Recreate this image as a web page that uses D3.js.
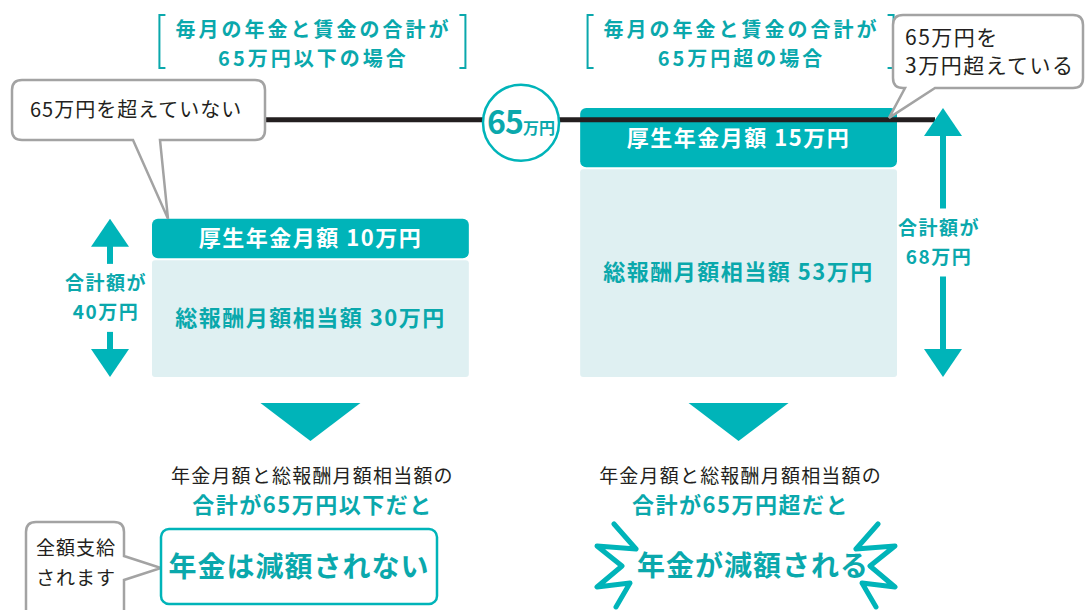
<!DOCTYPE html>
<html lang="ja">
<head>
<meta charset="utf-8">
<script src="https://cdn.jsdelivr.net/npm/d3@7"></script>
<style>
  body { margin: 0; background: #fff; }
  svg text { font-family: "Noto Sans CJK JP", "Noto Sans", sans-serif; }
</style>
<title>在職老齢年金</title>
</head>
<body>
<svg id="chart" width="1086" height="610"></svg>
<script>
// data
var panels = ["65万円以下の場合", "65万円超の場合"];
var pensionMonthly = [10, 15];        // 厚生年金月額 (万円)
var salaryEquivalent = [30, 53];      // 総報酬月額相当額 (万円)
var threshold = 65;                   // 基準額 (万円)
var headingLine1 = ["毎月の年金と賃金の合計が", "毎月の年金と賃金の合計が"];
var conclusionTeal = ["合計が65万円以下だと", "合計が65万円超だと"];
var resultText = ["年金は減額されない", "年金が減額される"];

var teal = "#00b4b9", tealText = "#0aa8ac", light = "#dff0f2", ink = "#231f20", gray = "#a3a3a3";

var svg = d3.select("#chart");

var x = d3.scaleBand().domain(panels).range([152, 897]).paddingInner(0.26).paddingOuter(0);
var y = d3.scaleLinear().domain([0, 68]).range([377, 108]);
var bw = x.bandwidth();

var totals = panels.map(function(p, i){ return pensionMonthly[i] + salaryEquivalent[i]; });

// headings with brackets
panels.forEach(function(p, i){
  var cx = x(p) + bw / 2 + 3;
  var g = svg.append("g");
  var t = g.append("text").attr("text-anchor", "middle")
    .attr("font-size", 20).attr("letter-spacing", 3).attr("font-weight", 700).attr("fill", tealText);
  t.append("tspan").attr("x", cx).attr("y", 37).text(headingLine1[i]);
  t.append("tspan").attr("x", cx).attr("y", 66).text(threshold + "万円" + (i == 0 ? "以下" : "超") + "の場合");
  var l = cx - 154, r = cx + 152;
  g.append("path").attr("d", "M" + (l + 6) + ",15 H" + l + " V68 H" + (l + 6))
    .attr("fill", "none").attr("stroke", tealText).attr("stroke-width", 2);
  g.append("path").attr("d", "M" + (r - 6) + ",15 H" + r + " V68 H" + (r - 6))
    .attr("fill", "none").attr("stroke", tealText).attr("stroke-width", 2);
});

// stacked bars
var bars = svg.selectAll("g.bar").data(panels).enter().append("g").attr("class", "bar");

bars.append("rect")
  .attr("x", function(d){ return x(d); })
  .attr("y", function(d, i){ return y(salaryEquivalent[i]) + 2; })
  .attr("width", bw)
  .attr("height", function(d, i){ return y(0) - y(salaryEquivalent[i]) - 2; })
  .attr("rx", 3).attr("fill", light);

bars.append("rect")
  .attr("x", function(d){ return x(d); })
  .attr("y", function(d, i){ return y(totals[i]); })
  .attr("width", bw)
  .attr("height", function(d, i){ return y(salaryEquivalent[i]) - y(totals[i]); })
  .attr("rx", 6).attr("fill", teal);

bars.append("text")
  .attr("x", function(d){ return x(d) + bw / 2; })
  .attr("y", function(d, i){ return (y(salaryEquivalent[i]) + y(totals[i])) / 2; })
  .attr("dy", "0.36em").attr("text-anchor", "middle")
  .attr("font-size", 22).attr("letter-spacing", 1.5).attr("font-weight", 700).attr("fill", "#fff")
  .text(function(d, i){ return "厚生年金月額 " + pensionMonthly[i] + "万円"; });

bars.append("text")
  .attr("x", function(d){ return x(d) + bw / 2; })
  .attr("y", function(d, i){ return (y(0) + y(salaryEquivalent[i])) / 2; })
  .attr("dy", "0.36em").attr("text-anchor", "middle")
  .attr("font-size", 22).attr("letter-spacing", 1.5).attr("font-weight", 700).attr("fill", tealText)
  .text(function(d, i){ return "総報酬月額相当額 " + salaryEquivalent[i] + "万円"; });

// threshold line
var ty = y(threshold);
svg.append("line").attr("x1", 255).attr("x2", 935).attr("y1", ty).attr("y2", ty)
  .attr("stroke", ink).attr("stroke-width", 5);

// double arrows with total labels
var arrowX = [110, 943];
panels.forEach(function(p, i){
  var top = y(totals[i]), bot = y(0), mid = (top + bot) / 2, ax = arrowX[i];
  var g = svg.append("g");
  g.append("path").attr("d", "M" + ax + "," + top + " l-19,28 h38 z").attr("fill", teal);
  g.append("path").attr("d", "M" + ax + "," + bot + " l-19,-28 h38 z").attr("fill", teal);
  g.append("rect").attr("x", ax - 3).attr("y", top + 26).attr("width", 6).attr("height", mid - 34 - top - 26).attr("fill", teal);
  g.append("rect").attr("x", ax - 3).attr("y", mid + 34).attr("width", 6).attr("height", bot - 26 - mid - 34).attr("fill", teal);
  var t = g.append("text").attr("text-anchor", "middle")
    .attr("font-size", 19).attr("letter-spacing", 1.5).attr("font-weight", 700).attr("fill", tealText);
  t.append("tspan").attr("x", ax - 4).attr("y", mid - 8).text("合計額が");
  t.append("tspan").attr("x", ax - 4).attr("y", mid + 21).text(totals[i] + "万円");
});

// 65万円 badge
var badge = svg.append("g").attr("transform", "translate(521," + (ty + 3) + ")");
badge.append("circle").attr("r", 38).attr("fill", "#fff").attr("stroke", teal).attr("stroke-width", 2.5);
var bt = badge.append("text").attr("text-anchor", "middle").attr("y", 11).attr("fill", tealText).attr("font-weight", 700);
bt.append("tspan").attr("font-size", 32).attr("letter-spacing", -1).text(threshold);
bt.append("tspan").attr("font-size", 16).text("万円");

// callout bubbles
function bubble(x0, y0, w, h, tail, lines, fs, lh) {
  var g = svg.append("g");
  var r = 10;
  var d;
  if (tail.side == "bottom") {
    d = "M" + (x0 + r) + "," + y0 + " H" + (x0 + w - r) + " Q" + (x0 + w) + "," + y0 + " " + (x0 + w) + "," + (y0 + r)
      + " V" + (y0 + h - r) + " Q" + (x0 + w) + "," + (y0 + h) + " " + (x0 + w - r) + "," + (y0 + h)
      + " H" + tail.b2 + " L" + tail.tx + "," + tail.ty + " L" + tail.b1 + "," + (y0 + h)
      + " H" + (x0 + r) + " Q" + x0 + "," + (y0 + h) + " " + x0 + "," + (y0 + h - r)
      + " V" + (y0 + r) + " Q" + x0 + "," + y0 + " " + (x0 + r) + "," + y0 + " Z";
  } else {
    d = "M" + (x0 + r) + "," + y0 + " H" + (x0 + w - r) + " Q" + (x0 + w) + "," + y0 + " " + (x0 + w) + "," + (y0 + r)
      + " V" + tail.b1 + " L" + tail.tx + "," + tail.ty + " L" + (x0 + w) + "," + tail.b2
      + " V" + (y0 + h - r) + " Q" + (x0 + w) + "," + (y0 + h) + " " + (x0 + w - r) + "," + (y0 + h)
      + " H" + (x0 + r) + " Q" + x0 + "," + (y0 + h) + " " + x0 + "," + (y0 + h - r)
      + " V" + (y0 + r) + " Q" + x0 + "," + y0 + " " + (x0 + r) + "," + y0 + " Z";
  }
  g.append("path").attr("d", d).attr("fill", "#fff").attr("stroke", gray).attr("stroke-width", 2.5);
  var t = g.append("text").attr("font-size", fs).attr("letter-spacing", lh.ls).attr("fill", ink);
  lines.forEach(function(s, k){
    t.append("tspan").attr("x", x0 + lh.pad).attr("y", y0 + lh.first + k * lh.step).text(s);
  });
  return g;
}

bubble(12, 80, 253, 60, {side: "bottom", b1: 133, b2: 160, tx: x(panels[0]) + 16, ty: y(totals[0])},
  ["65万円を超えていない"], 20, {first: 37, step: 0, pad: 18, ls: 1});
bubble(893, 15, 190, 73, {side: "bottom", b1: 905, b2: 935, tx: x(panels[1]) + bw - 8, ty: ty - 2},
  ["65万円を", "3万円超えている"], 21, {first: 30, step: 28, pad: 12, ls: 1.5});
bubble(26, 522, 98, 100, {side: "right", b1: 556, b2: 580, tx: 161, ty: 568},
  ["全額支給", "されます"], 19, {first: 33, step: 30, pad: 10, ls: 1});

// down triangles and conclusions
panels.forEach(function(p, i){
  var cx = x(p) + bw / 2;
  svg.append("path").attr("d", "M" + (cx - 50) + ",403 H" + (cx + 50) + " L" + cx + ",441 Z").attr("fill", teal);
  var t = svg.append("text").attr("text-anchor", "middle");
  t.append("tspan").attr("x", cx + 2).attr("y", 483)
    .attr("font-size", 19).attr("letter-spacing", 1.2).attr("fill", ink).text("年金月額と総報酬月額相当額の");
  t.append("tspan").attr("x", cx + 2).attr("y", 513)
    .attr("font-size", 22).attr("letter-spacing", 1.5).attr("font-weight", 700).attr("fill", tealText).text(conclusionTeal[i]);
});

// result boxes
svg.append("rect").attr("x", 161).attr("y", 529).attr("width", 276).attr("height", 75).attr("rx", 8)
  .attr("fill", "#fff").attr("stroke", teal).attr("stroke-width", 2.5);
svg.append("text").attr("x", 299).attr("y", 577).attr("text-anchor", "middle")
  .attr("font-size", 28).attr("letter-spacing", 1).attr("font-weight", 700).attr("fill", tealText).text(resultText[0]);

// burst marks
var burstL = [[614,524],[636,549],[597,546],[622,566],[597,587],[630,583],[616,607]];
var burstR = burstL.map(function(pt){ return [1492 - pt[0], pt[1]]; });
[burstL, burstR].forEach(function(pts){
  svg.append("path").attr("d", d3.line()(pts)).attr("fill", "none").attr("stroke", teal)
    .attr("stroke-width", 5).attr("stroke-linejoin", "round").attr("stroke-linecap", "round");
});
svg.append("text").attr("x", 753).attr("y", 576).attr("text-anchor", "middle")
  .attr("font-size", 28).attr("letter-spacing", 1).attr("font-weight", 700).attr("fill", tealText).text(resultText[1]);
</script>
</body>
</html>
